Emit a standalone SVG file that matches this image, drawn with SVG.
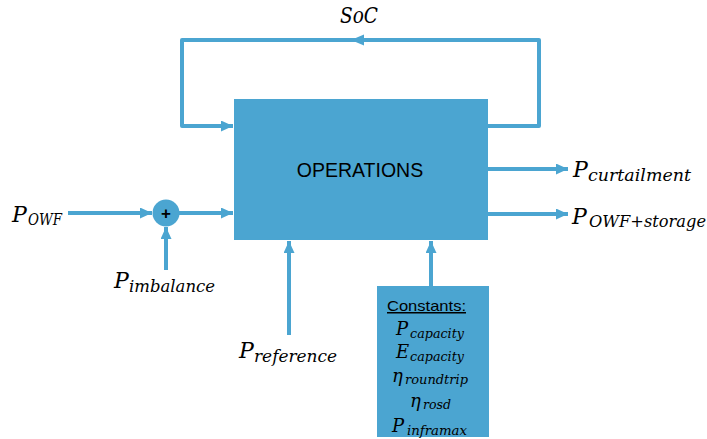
<svg xmlns="http://www.w3.org/2000/svg" width="707" height="439" viewBox="0 0 707 439">
<style>
.fill{fill:#4ba5d1}
.ln{fill:none;stroke:#4ba5d1;stroke-width:4;stroke-linejoin:round}
.m{font-family:"DejaVu Serif","Liberation Serif",serif;font-style:italic;fill:#000}
.big{font-size:22px}
.sub{font-size:16.5px}
.cbig{font-size:18px}
.csub{font-size:13.5px}
.sans{font-family:"Liberation Sans",Arial,sans-serif;fill:#000}
</style>
<defs>
<marker id="ah" markerUnits="userSpaceOnUse" markerWidth="13" markerHeight="11" refX="12" refY="5.5" orient="auto">
<path d="M0,0 L12,5.5 L0,11 z" fill="#4ba5d1"/>
</marker>
</defs>
<g id="connectors">
<path class="ln" d="M488,126 H539 V40 H182 V126 H233" marker-end="url(#ah)"/>
<polygon points="351,40 364,34.5 364,45.5" fill="#4ba5d1"/>
<line class="ln" x1="68" y1="213" x2="152" y2="213" marker-end="url(#ah)"/>
<line class="ln" x1="179" y1="213" x2="233" y2="213" marker-end="url(#ah)"/>
<line class="ln" x1="166" y1="270" x2="166" y2="227" marker-end="url(#ah)"/>
<line class="ln" x1="488" y1="169" x2="568" y2="169" marker-end="url(#ah)"/>
<line class="ln" x1="488" y1="214" x2="568" y2="214" marker-end="url(#ah)"/>
<line class="ln" x1="289" y1="335" x2="289" y2="241" marker-end="url(#ah)"/>
<line class="ln" x1="431" y1="286" x2="431" y2="241" marker-end="url(#ah)"/>
</g>
<g id="operations">
<rect class="fill" x="234" y="99" width="254" height="141"/>
<text class="sans" x="360" y="177" font-size="19.5" text-anchor="middle">OPERATIONS</text>
</g>
<g id="sum">
<circle class="fill" cx="166" cy="213" r="13.5"/>
<text class="sans" x="166" y="219" font-size="17" font-weight="bold" text-anchor="middle">+</text>
</g>
<g id="constants">
<rect class="fill" x="377" y="286" width="112" height="151"/>
<text class="sans" x="387" y="311" font-size="15" textLength="79" lengthAdjust="spacingAndGlyphs" text-decoration="underline">Constants:</text>
<text class="m cbig" x="396" y="335">P</text>
<text class="m csub" x="410" y="338" textLength="54" lengthAdjust="spacingAndGlyphs">capacity</text>
<text class="m cbig" x="396" y="358">E</text>
<text class="m csub" x="410" y="361" textLength="54" lengthAdjust="spacingAndGlyphs">capacity</text>
<text class="m cbig" x="392" y="382">η</text>
<text class="m csub" x="405" y="384" textLength="63" lengthAdjust="spacingAndGlyphs">roundtrip</text>
<text class="m cbig" x="410" y="407">η</text>
<text class="m csub" x="423" y="409" textLength="28" lengthAdjust="spacingAndGlyphs">rosd</text>
<text class="m cbig" x="392" y="432">P</text>
<text class="m csub" x="407" y="435" textLength="60" lengthAdjust="spacingAndGlyphs">inframax</text>
</g>
<g id="soc">
<text class="m" x="340" y="23" font-size="22" textLength="38" lengthAdjust="spacingAndGlyphs">SoC</text>
</g>
<g id="p_owf">
<text class="m big" x="12" y="222">P</text>
<text class="m sub" x="28" y="225" textLength="34" lengthAdjust="spacingAndGlyphs">OWF</text>
</g>
<g id="p_imbalance">
<text class="m big" x="114" y="288">P</text>
<text class="m sub" x="129" y="292" textLength="86" lengthAdjust="spacingAndGlyphs">imbalance</text>
</g>
<g id="p_curtailment">
<text class="m big" x="573" y="177">P</text>
<text class="m sub" x="588" y="181" textLength="103" lengthAdjust="spacingAndGlyphs">curtailment</text>
</g>
<g id="p_owf_storage">
<text class="m big" x="572" y="224">P</text>
<text class="m sub" x="589" y="227" textLength="117" lengthAdjust="spacingAndGlyphs">OWF+storage</text>
</g>
<g id="p_reference">
<text class="m big" x="239" y="358">P</text>
<text class="m sub" x="254" y="362" textLength="83" lengthAdjust="spacingAndGlyphs">reference</text>
</g>
</svg>
